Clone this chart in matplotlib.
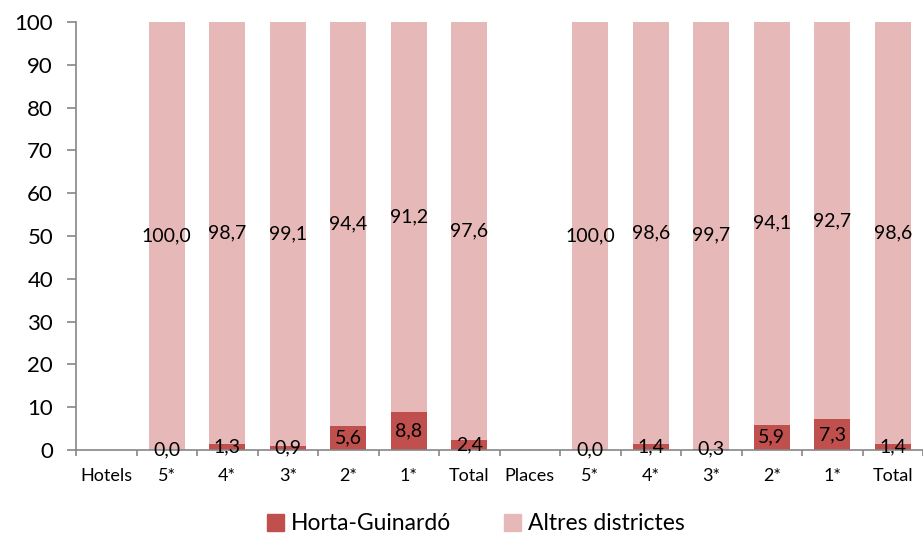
import matplotlib
matplotlib.use("Agg")
import matplotlib.pyplot as plt
import numpy as np

categories = ["Hotels", "5*", "4*", "3*", "2*", "1*", "Total",
              "Places", "5*", "4*", "3*", "2*", "1*", "Total"]
horta = [None, 0.0, 1.3, 0.9, 5.6, 8.8, 2.4,
         None, 0.0, 1.4, 0.3, 5.9, 7.3, 1.4]
altres = [None, 100.0, 98.7, 99.1, 94.4, 91.2, 97.6,
          None, 100.0, 98.6, 99.7, 94.1, 92.7, 98.6]
series_names = ["Horta-Guinardó", "Altres districtes"]
yticks = [0, 10, 20, 30, 40, 50, 60, 70, 80, 90, 100]

plt.rcParams['font.family'] = ['Lato', 'DejaVu Sans']

dark = "#C0504D"
light = "#E6B9B8"
axc = "#868686"

fig = plt.figure(figsize=(9.23, 5.38), dpi=100)
ax = fig.add_axes([76/923, 1-450/538, 1-76/923, (450-22)/538])

x = np.arange(len(categories))
w = 0.6
fmt = lambda v: f"{v:.1f}".replace(".", ",")
for i in range(len(categories)):
    if horta[i] is None:
        continue
    ax.bar(x[i], horta[i], w, color=dark, zorder=2)
    ax.bar(x[i], altres[i], w, bottom=horta[i], color=light, zorder=2)
    ax.text(x[i], horta[i]/2, fmt(horta[i]), ha='center', va='center', fontsize=14, color='black', zorder=3)
    ax.text(x[i], horta[i] + altres[i]/2, fmt(altres[i]), ha='center', va='center', fontsize=14, color='black', zorder=3)

ax.set_xlim(-0.5, len(categories)-0.5)
ax.set_ylim(0, 100)
ax.set_yticks(yticks)
ax.set_yticklabels([str(t) for t in yticks], fontsize=16)
ax.set_xticks(x)
ax.set_xticklabels(categories, fontsize=13)
ax.set_xticks(np.arange(-0.5, len(categories)), minor=True)
ax.tick_params(axis='x', which='major', length=0, pad=13)
ax.tick_params(axis='x', which='minor', length=4, color=axc, width=1.2)
ax.tick_params(axis='y', length=6.5, color=axc, width=1.2, pad=10)

for s in ['top', 'right']:
    ax.spines[s].set_visible(False)
for s in ['left', 'bottom']:
    ax.spines[s].set_color(axc)
    ax.spines[s].set_linewidth(1.2)

from matplotlib.patches import Patch
handles = [Patch(color=dark), Patch(color=light)]
fig.legend(handles, series_names, loc='center', bbox_to_anchor=(476/923, 1-524/538),
           ncol=2, frameon=False, fontsize=16.5, handlelength=0.75, handleheight=0.75,
           handletextpad=0.3, columnspacing=2.3)

fig.savefig("out.png", dpi=100)
